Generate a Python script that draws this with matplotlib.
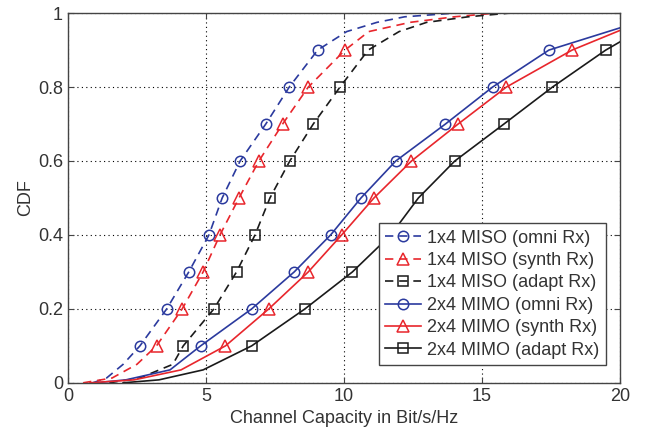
import matplotlib.pyplot as plt
from matplotlib.ticker import FormatStrFormatter

plt.rcParams['font.family'] = ['Liberation Sans', 'DejaVu Sans']
plt.rcParams['font.size'] = 13

# CDF levels and capacities (Bit/s/Hz)
cdf_miso = [0.0, 0.013, 0.05, 0.1, 0.2, 0.3, 0.4, 0.5, 0.6, 0.7, 0.8, 0.9, 0.95, 0.975, 0.99, 1.0]
miso_omni = [0.9, 1.4, 2.0, 2.61, 3.58, 4.38, 5.11, 5.59, 6.24, 7.17, 8.02, 9.05, 10.1, 11.2, 12.2, 14.0]
miso_synth = [0.55, 1.6, 2.5, 3.21, 4.14, 4.90, 5.51, 6.20, 6.92, 7.78, 8.71, 10.04, 10.9, 12.4, 14.0, 15.5]
miso_adapt = [1.5, 2.6, 3.8, 4.18, 5.29, 6.11, 6.78, 7.32, 8.04, 8.89, 9.86, 10.88, 12.0, 13.0, 14.5, 16.0]

cdf_mimo = [0.0, 0.008, 0.035, 0.1, 0.2, 0.3, 0.4, 0.5, 0.6, 0.7, 0.8, 0.9]
mimo_omni = [1.0, 2.1, 3.7, 4.81, 6.66, 8.20, 9.52, 10.62, 11.88, 13.68, 15.39, 17.43]
mimo_synth = [0.8, 2.4, 4.1, 5.71, 7.28, 8.71, 9.92, 11.09, 12.45, 14.14, 15.89, 18.27]
mimo_adapt = [2.0, 3.3, 4.9, 6.66, 8.59, 10.31, 11.7, 12.70, 14.02, 15.80, 17.56, 19.49]
mimo_end = [0.96, 0.953, 0.922]  # CDF at x = 20

labels = ['1x4 MISO (omni Rx)', '1x4 MISO (synth Rx)', '1x4 MISO (adapt Rx)',
          '2x4 MIMO (omni Rx)', '2x4 MIMO (synth Rx)', '2x4 MIMO (adapt Rx)']

blue = '#2b3a9e'
red = '#e8262c'
black = '#1a1a1a'

fig = plt.figure(figsize=(6.47, 4.37), dpi=100)
ax = fig.add_axes([0.105, 0.124, 0.853, 0.846])

miso = [(miso_omni, blue, 'o', 7.5), (miso_synth, red, '^', 8), (miso_adapt, black, 's', 6.5)]
for (xs, c, m, ms), lab in zip(miso, labels[:3]):
    ax.plot(xs, cdf_miso, color=c, linestyle=(0, (5, 3.5)), linewidth=1.2,
            marker=m, markevery=list(range(3, 12)), markersize=ms,
            markerfacecolor='none', markeredgecolor=c, markeredgewidth=1.1, label=lab)

mimo = [(mimo_omni, blue, 'o', 7.5), (mimo_synth, red, '^', 8), (mimo_adapt, black, 's', 6.5)]
for (xs, c, m, ms), end, lab in zip(mimo, mimo_end, labels[3:]):
    ax.plot(xs + [20], cdf_mimo + [end], color=c, linestyle='-', linewidth=1.2,
            marker=m, markevery=list(range(3, 12)), markersize=ms,
            markerfacecolor='none', markeredgecolor=c, markeredgewidth=1.1, label=lab)

ax.set_xlim(0, 20)
ax.set_ylim(0, 1)
ax.set_xticks([0, 5, 10, 15, 20])
ax.set_yticks([0, 0.2, 0.4, 0.6, 0.8, 1.0])
ax.yaxis.set_major_formatter(FormatStrFormatter('%g'))
ax.grid(True, color='black', linestyle=(0, (1, 3)), linewidth=0.8)
ax.tick_params(direction='in', top=True, right=True, length=4, colors='#444444',
               labelcolor='#333333')
for s in ax.spines.values():
    s.set_color('#444444')
    s.set_linewidth(1.0)

ax.set_xlabel('Channel Capacity in Bit/s/Hz', color='#333333')
ax.set_ylabel('CDF', color='#333333', labelpad=3)

leg = ax.legend(loc='lower right', bbox_to_anchor=(0.975, 0.048), borderaxespad=0,
                fancybox=False, framealpha=1, edgecolor='#444444', borderpad=0.35,
                labelspacing=0.3, handlelength=2.0, handletextpad=0.35, fontsize=13)
leg.get_frame().set_linewidth(1.0)
for t in leg.get_texts():
    t.set_color('#333333')

fig.savefig('out.png', dpi=100)
